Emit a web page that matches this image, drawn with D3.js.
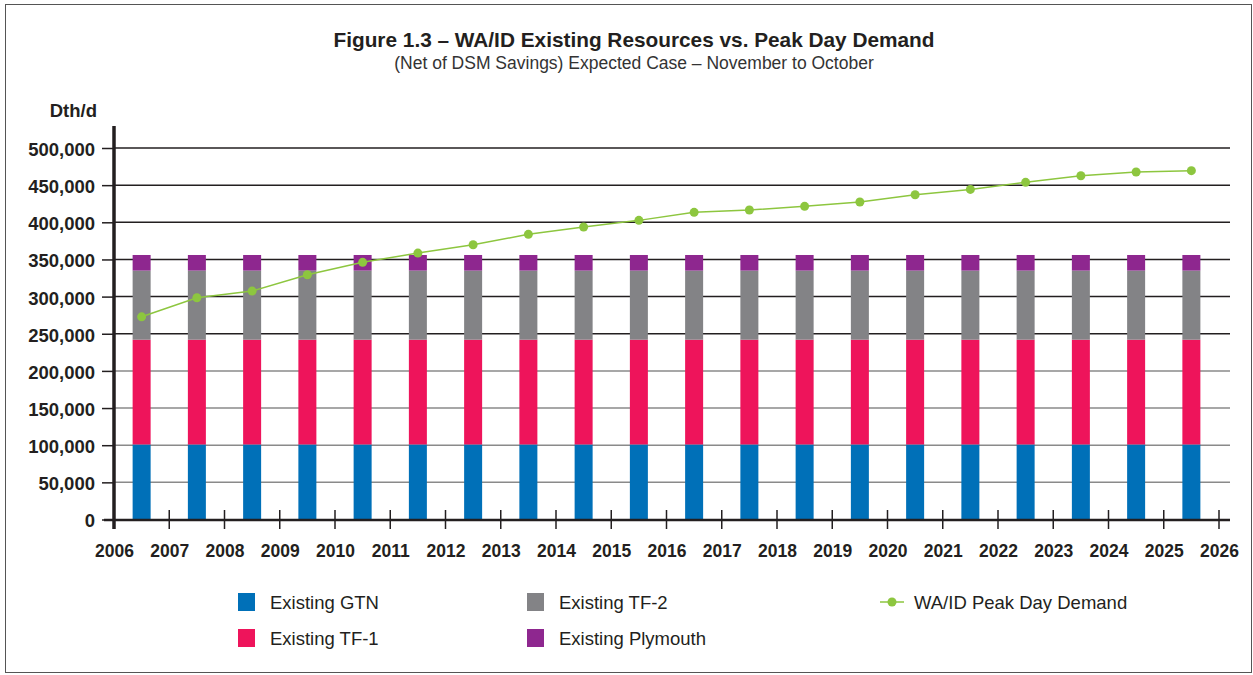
<!DOCTYPE html>
<html>
<head>
<meta charset="utf-8">
<script src="https://cdn.jsdelivr.net/npm/d3@7"></script>
<style>
  body { margin: 0; background: #fff; }
  svg { font-family: "Liberation Sans", Arial, sans-serif; }
</style>
</head>
<body>
<div id="chart"></div>
<script>
// Data
const years = [2006, 2007, 2008, 2009, 2010, 2011, 2012, 2013, 2014, 2015,
               2016, 2017, 2018, 2019, 2020, 2021, 2022, 2023, 2024, 2025];
const gtn = years.map(() => 101000);
const tf1 = years.map(() => 141000);
const tf2 = years.map(() => 93000);
const plymouth = years.map(() => 21000);
const demand = [272800, 298400, 307400, 329400, 346100, 358600, 369800, 383800, 393600, 402600,
                413400, 416500, 421500, 427300, 437100, 444300, 453800, 462700, 467700, 469500];
const yTicks = [0, 50000, 100000, 150000, 200000, 250000, 300000, 350000, 400000, 450000, 500000];
const xTicks = d3.range(2006, 2027);

const seriesNames = ["Existing GTN", "Existing TF-1", "Existing TF-2", "Existing Plymouth"];
const seriesColors = ["#0070b8", "#ee145b", "#838386", "#8e278f"];
const lineColor = "#8dc63f";
const ink = "#231f20";

const width = 1253, height = 675;
const svg = d3.select("#chart").append("svg")
    .attr("width", width)
    .attr("height", height);

// frame
svg.append("rect")
    .attr("x", 5.5).attr("y", 4.5)
    .attr("width", 1246).attr("height", 668)
    .attr("fill", "#fff")
    .attr("stroke", "#555")
    .attr("stroke-width", 1);

// titles
svg.append("text")
    .attr("x", 634).attr("y", 47)
    .attr("text-anchor", "middle")
    .style("font-size", "20.8px").style("font-weight", "bold").style("fill", ink)
    .text("Figure 1.3 – WA/ID Existing Resources vs. Peak Day Demand");
svg.append("text")
    .attr("x", 634).attr("y", 69)
    .attr("text-anchor", "middle")
    .style("font-size", "17.5px").style("fill", "#333")
    .text("(Net of DSM Savings) Expected Case – November to October");

const x = d3.scaleLinear().domain([2006, 2026]).range([114, 1219]);
const y = d3.scaleLinear().domain([0, 500000]).range([519.5, 148]);

// gridlines
svg.append("g").selectAll("line")
    .data(yTicks.filter(d => d > 0))
    .enter().append("line")
    .attr("x1", 114).attr("x2", 1230)
    .attr("y1", d => y(d)).attr("y2", d => y(d))
    .attr("stroke", d => d >= 250000 ? ink : "#8a8a8a")
    .attr("stroke-width", 1.5);

// stacked bars
const table = years.map((yr, i) => ({ year: yr, gtn: gtn[i], tf1: tf1[i], tf2: tf2[i], plymouth: plymouth[i] }));
const stack = d3.stack().keys(["gtn", "tf1", "tf2", "plymouth"]);
const layers = stack(table);
const barW = 18;

svg.append("g").selectAll("g")
    .data(layers)
    .enter().append("g")
    .attr("fill", (d, i) => seriesColors[i])
    .selectAll("rect")
    .data(d => d)
    .enter().append("rect")
    .attr("x", d => x(d.data.year + 0.5) - barW / 2)
    .attr("width", barW)
    .attr("y", d => y(d[1]))
    .attr("height", d => y(d[0]) - y(d[1]));

// y axis
const yAxis = svg.append("g")
    .attr("transform", "translate(114,0)")
    .call(d3.axisLeft(y).tickValues(yTicks).tickSize(12).tickPadding(7).tickFormat(d3.format(",")));
yAxis.select(".domain").remove();
yAxis.selectAll(".tick line").attr("stroke", ink).attr("stroke-width", 1.5);
yAxis.selectAll("text")
    .attr("dy", "0.4em")
    .style("font-size", "18.5px").style("font-weight", "bold").style("fill", ink)
    .style("font-family", "'Liberation Sans', Arial, sans-serif");

svg.append("line")
    .attr("x1", 114).attr("x2", 114)
    .attr("y1", 126).attr("y2", 529)
    .attr("stroke", ink).attr("stroke-width", 3.5);

svg.append("text")
    .attr("x", 97).attr("y", 117)
    .attr("text-anchor", "end")
    .style("font-size", "18.5px").style("font-weight", "bold").style("fill", ink)
    .text("Dth/d");

// x axis
svg.append("line")
    .attr("x1", 104).attr("x2", 1230)
    .attr("y1", 520).attr("y2", 520)
    .attr("stroke", ink).attr("stroke-width", 2.5);

const xAxis = svg.append("g")
    .attr("transform", "translate(0,520)")
    .call(d3.axisBottom(x).tickValues(xTicks).tickSize(0).tickPadding(25).tickFormat(d3.format("d")));
xAxis.select(".domain").remove();
xAxis.selectAll("text")
    .style("font-size", "17.5px").style("font-weight", "bold").style("fill", ink)
    .style("font-family", "'Liberation Sans', Arial, sans-serif");

svg.append("g").selectAll("line")
    .data(xTicks.slice(1))
    .enter().append("line")
    .attr("x1", d => x(d)).attr("x2", d => x(d))
    .attr("y1", 510).attr("y2", 529)
    .attr("stroke", ink).attr("stroke-width", 1.5);

// demand line
const line = d3.line()
    .x((d, i) => x(years[i] + 0.5))
    .y(d => y(d));
svg.append("path")
    .datum(demand)
    .attr("d", line)
    .attr("fill", "none")
    .attr("stroke", lineColor)
    .attr("stroke-width", 1.5);
svg.append("g").selectAll("circle")
    .data(demand)
    .enter().append("circle")
    .attr("cx", (d, i) => x(years[i] + 0.5))
    .attr("cy", d => y(d))
    .attr("r", 4.5)
    .attr("fill", lineColor);

// legend
const legendItems = [
    { name: seriesNames[0], color: seriesColors[0], x: 238, y: 602 },
    { name: seriesNames[1], color: seriesColors[1], x: 238, y: 638 },
    { name: seriesNames[2], color: seriesColors[2], x: 527, y: 602 },
    { name: seriesNames[3], color: seriesColors[3], x: 527, y: 638 }
];
const lg = svg.append("g");
legendItems.forEach(it => {
    lg.append("rect")
        .attr("x", it.x).attr("y", it.y - 9)
        .attr("width", 17).attr("height", 18)
        .attr("fill", it.color);
    lg.append("text")
        .attr("x", it.x + 32).attr("y", it.y + 6.5)
        .style("font-size", "18.5px").style("fill", ink)
        .text(it.name);
});
lg.append("line")
    .attr("x1", 880).attr("x2", 904)
    .attr("y1", 602).attr("y2", 602)
    .attr("stroke", lineColor).attr("stroke-width", 1.5);
lg.append("circle")
    .attr("cx", 892).attr("cy", 602).attr("r", 4.5)
    .attr("fill", lineColor);
lg.append("text")
    .attr("x", 914).attr("y", 608.5)
    .style("font-size", "18.5px").style("fill", ink)
    .text("WA/ID Peak Day Demand");
</script>
</body>
</html>
